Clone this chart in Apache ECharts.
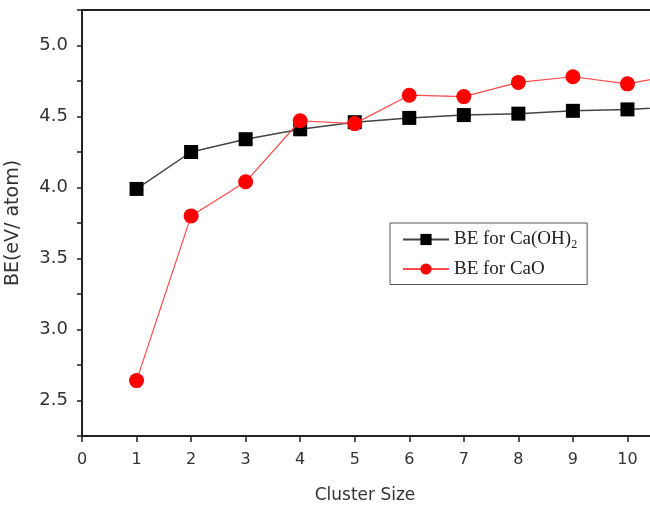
<!DOCTYPE html>
<html>
<head>
<meta charset="utf-8">
<script src="https://cdn.jsdelivr.net/npm/echarts@6/dist/echarts.min.js"></script>
<style>
  html, body { margin: 0; padding: 0; background: #fff; }
  #chart { width: 650px; height: 505px; }
</style>
</head>
<body>
<div id="chart"></div>
<script>
// Cluster sizes and binding energies (eV/atom)
const clusterSize = [1, 2, 3, 4, 5, 6, 7, 8, 9, 10, 11];
const beCaOH2 = [3.99, 4.25, 4.34, 4.41, 4.46, 4.49, 4.51, 4.52, 4.54, 4.55, 4.57];
const beCaO   = [2.64, 3.80, 4.04, 4.47, 4.45, 4.65, 4.64, 4.74, 4.78, 4.73, 4.80];
const seriesNames = ['BE for Ca(OH)2', 'BE for CaO'];

const pairs = (xs, ys) => xs.map((x, i) => [x, ys[i]]);

const chart = echarts.init(document.getElementById('chart'), null, { renderer: 'canvas' });

const axisFont = 'DejaVu Sans, Verdana, sans-serif';
const serifFont = 'Liberation Serif, Times New Roman, serif';

chart.setOption({
  animation: false,
  backgroundColor: '#ffffff',
  grid: {
    left: 82, top: 10, bottom: 69, right: -32,
    outerBoundsMode: 'none',
    containLabel: false,
    show: true, borderColor: '#222', borderWidth: 2, backgroundColor: 'transparent'
  },
  legend: {
    orient: 'vertical',
    left: 390, top: 223,
    padding: [7, 10, 6, 12],
    itemGap: 9,
    itemWidth: 46, itemHeight: 14,
    borderColor: '#555', borderWidth: 1,
    backgroundColor: '#fff',
    data: seriesNames,
    formatter: function (name) {
      if (name === seriesNames[0]) return '{t|BE for Ca(OH)}{s|2}';
      return '{t|' + name + '}';
    },
    textStyle: {
      rich: {
        t: { fontFamily: serifFont, fontSize: 19, color: '#222' },
        s: { fontFamily: serifFont, fontSize: 12, color: '#222', padding: [10, 0, 0, 0] }
      }
    }
  },
  xAxis: {
    type: 'value',
    min: 0, max: 11, interval: 1,
    name: 'Cluster Size',
    nameLocation: 'middle',
    nameGap: 51,
    nameTextStyle: { fontFamily: axisFont, fontSize: 17, color: '#333', padding: [0, 34, 0, 0] },
    axisLine: { show: true, onZero: false, lineStyle: { color: '#222', width: 2 } },
    axisTick: { show: true, inside: false, length: 6, lineStyle: { color: '#222', width: 1.5 } },
    axisLabel: { fontFamily: axisFont, fontSize: 16, color: '#333', margin: 16 },
    splitLine: { show: false }
  },
  yAxis: {
    type: 'value',
    min: 2.25, max: 5.25, interval: 0.25,
    name: 'BE(eV/ atom)',
    nameLocation: 'middle',
    nameGap: 59,
    nameRotate: 90,
    nameTextStyle: { fontFamily: axisFont, fontSize: 19, color: '#333' },
    axisLine: { show: true, onZero: false, lineStyle: { color: '#222', width: 2 } },
    axisTick: { show: true, inside: false, length: 5, lineStyle: { color: '#222', width: 1.5 } },
    axisLabel: {
      fontFamily: axisFont, fontSize: 18, color: '#333', margin: 14,
      formatter: function (v) {
        const r = Math.round(v * 100) / 100;
        return Math.abs(r * 2 - Math.round(r * 2)) < 1e-6 ? r.toFixed(1) : '';
      }
    },
    splitLine: { show: false }
  },
  series: [
    {
      name: seriesNames[0],
      type: 'line',
      data: pairs(clusterSize, beCaOH2),
      symbol: 'rect',
      symbolSize: 14,
      itemStyle: { color: '#000' },
      lineStyle: { color: '#444', width: 1.5 },
      z: 3
    },
    {
      name: seriesNames[1],
      type: 'line',
      data: pairs(clusterSize, beCaO),
      symbol: 'circle',
      symbolSize: 15,
      itemStyle: { color: '#ff0000' },
      lineStyle: { color: '#ff4a4a', width: 1.2 },
      z: 4
    }
  ]
});
</script>
</body>
</html>
